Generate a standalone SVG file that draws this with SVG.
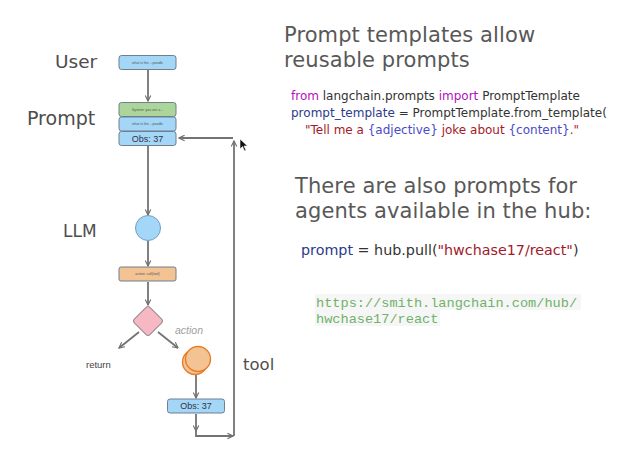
<svg xmlns="http://www.w3.org/2000/svg" width="621" height="461" viewBox="0 0 621 461">
  <defs>
    <marker id="arr" viewBox="0 0 10 10" refX="9" refY="5" markerWidth="7" markerHeight="7" orient="auto-start-reverse" markerUnits="userSpaceOnUse">
      <path d="M1,1 L9,5 L1,9" fill="none" stroke="#6f6f6f" stroke-width="1.6"/>
    </marker>
    <style>
      .lbl { font-family: "DejaVu Sans", "Liberation Sans", sans-serif; fill: #4d4d4d; }
      .box { stroke: #6f7f8f; stroke-width: 1; }
      .blue { fill: #a3d6f7; }
      .green { fill: #abd59a; }
      .orange { fill: #f3c393; }
      .tiny { font-family: "Liberation Sans", sans-serif; font-size: 3.5px; fill: #555; text-anchor: middle; }
      .obs { font-family: "Liberation Sans", sans-serif; font-size: 9px; fill: #334; text-anchor: middle; }
      .edge { fill: none; stroke: #737373; stroke-width: 1.8; }
      .head { font-family: "DejaVu Sans", "Liberation Sans", sans-serif; font-size: 21px; letter-spacing: 0.1px; fill: #585858; }
      .code { font-family: "DejaVu Sans", "Liberation Sans", sans-serif; font-size: 12px; fill: #333; }
      .kw { fill: #b010c0; }
      .var { fill: #2b3a8c; }
      .str { fill: #a31a2a; }
      .brc { fill: #4a4ac8; }
      .url { font-family: "Liberation Mono", "DejaVu Sans Mono", monospace; font-size: 13.6px; fill: #6fb36a; }
    </style>
  </defs>

  <rect width="621" height="461" fill="#ffffff"/>

  <!-- side labels -->
  <text class="lbl" x="55" y="68" font-size="18.5">User</text>
  <text class="lbl" x="27" y="125" font-size="19">Prompt</text>
  <text class="lbl" x="63" y="237" font-size="17">LLM</text>
  <text class="lbl" x="243" y="370" font-size="16.5">tool</text>

  <!-- connectors -->
  <g id="connectors">
    <line class="edge" x1="148" y1="70" x2="148" y2="101" marker-end="url(#arr)"/>
    <line class="edge" x1="148" y1="146" x2="148" y2="215" marker-end="url(#arr)"/>
    <line class="edge" x1="148" y1="241" x2="148" y2="266" marker-end="url(#arr)"/>
    <line class="edge" x1="148" y1="282" x2="148" y2="305" marker-end="url(#arr)"/>
    <line class="edge" x1="139" y1="332" x2="119" y2="348" marker-end="url(#arr)"/>
    <line class="edge" x1="158" y1="332" x2="178" y2="348" marker-end="url(#arr)"/>
    <line class="edge" x1="196" y1="374" x2="196" y2="398" marker-end="url(#arr)"/>
    <line class="edge" x1="196" y1="414" x2="196" y2="431" marker-end="url(#arr)"/>
    <polyline class="edge" points="196,431 196,436 233,436" marker-end="url(#arr)"/>
    <line class="edge" x1="234" y1="436" x2="234" y2="141" marker-end="url(#arr)"/>
    <line class="edge" x1="233" y1="138" x2="179" y2="138" marker-end="url(#arr)"/>
    <text x="175" y="334" font-family="Liberation Sans, sans-serif" font-size="10.5" font-style="italic" fill="#a0a0a0">action</text>
    <text x="86" y="368" font-family="Liberation Sans, sans-serif" font-size="9.5" fill="#444">return</text>
  </g>

  <!-- user message -->
  <g id="user-msg">
    <rect class="box blue" x="119" y="55.5" width="57" height="14" rx="2.5"/>
    <text class="tiny" x="147.5" y="63.8">what is the ...poodle</text>
  </g>

  <!-- prompt stack -->
  <g id="prompt-system">
    <rect class="box green" x="119" y="102.5" width="57" height="14" rx="2.5"/>
    <text class="tiny" x="147.5" y="110.8">System: you are a...</text>
  </g>
  <g id="prompt-user">
    <rect class="box blue" x="119" y="117" width="57" height="14" rx="2.5"/>
    <text class="tiny" x="147.5" y="125.3">what is the ...poodle</text>
  </g>
  <g id="prompt-obs">
    <rect class="box blue" x="119" y="131.5" width="57" height="14" rx="2.5"/>
    <text class="obs" x="147.5" y="141.8">Obs: 37</text>
  </g>

  <!-- model -->
  <g id="llm">
    <circle cx="148" cy="228" r="12.5" fill="#a3d6f7" stroke="#6f9fc7" stroke-width="1"/>
  </g>

  <g id="action-call">
    <rect class="box orange" x="119" y="267" width="57" height="14" rx="2" stroke="#9a8a7a"/>
    <text class="tiny" x="147.5" y="275.3">action: call(tool)</text>
  </g>

  <g id="decision">
    <rect x="137" y="310" width="22" height="22" rx="3" fill="#f6b8c2" stroke="#9a8a8f" stroke-width="1" transform="rotate(45 148 321)"/>
  </g>

  <g id="tool-call">
    <circle cx="195" cy="362" r="12.5" fill="#f3c393" stroke="#e87d2a" stroke-width="1.4"/>
    <circle cx="198" cy="359" r="12.5" fill="#f3c393" stroke="#e87d2a" stroke-width="1.4"/>
  </g>

  <g id="tool-obs">
    <rect class="box blue" x="167.5" y="399" width="57" height="14" rx="2.5"/>
    <text class="obs" x="196" y="409.3">Obs: 37</text>
  </g>

  <!-- pointer -->
  <path d="M240,139 L240,149 L242.5,146.5 L244.5,151 L246,150.3 L244,146 L247.5,146 Z" fill="#111" stroke="#fff" stroke-width="0.6"/>

  <!-- right-hand notes -->
  <text class="head"><tspan x="284" y="42">Prompt templates allow</tspan><tspan x="284" y="67">reusable prompts</tspan></text>

  <text class="code" x="291" y="100"><tspan class="kw">from</tspan> langchain.prompts <tspan class="kw">import</tspan> PromptTemplate</text>
  <text class="code" x="291" y="117"><tspan class="var">prompt_template</tspan> = PromptTemplate.from_template(</text>
  <text class="code" x="305" y="134"><tspan class="str">"Tell me a </tspan><tspan class="brc">{adjective}</tspan><tspan class="str"> joke about </tspan><tspan class="brc">{content}</tspan><tspan class="str">."</tspan></text>

  <text class="head"><tspan x="295" y="193">There are also prompts for</tspan><tspan x="295" y="218">agents available in the hub:</tspan></text>

  <text x="301" y="255" font-family="DejaVu Sans, Liberation Sans, sans-serif" font-size="14.3" fill="#333"><tspan fill="#2b3a8c">prompt</tspan> = hub.pull(<tspan fill="#a31a2a">"hwchase17/react"</tspan>)</text>

  <rect x="315" y="294" width="266" height="16" fill="#f6f6f6"/>
  <rect x="315" y="310" width="125" height="16" fill="#f6f6f6"/>
  <text class="url" x="316" y="307">https://smith.langchain.com/hub/</text>
  <text class="url" x="316" y="323">hwchase17/react</text>
</svg>
